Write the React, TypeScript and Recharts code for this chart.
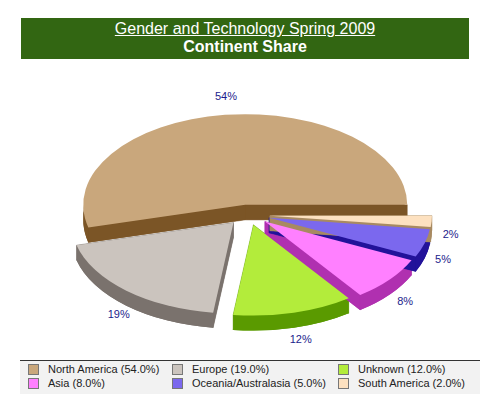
import React from 'react';
import { PieChart, Pie, Cell } from 'recharts';

// continent share data
const continents = ['North America', 'Europe', 'Unknown', 'Asia', 'Oceania/Australasia', 'South America'];
const shares = [54, 19, 12, 8, 5, 2];
const topColors = ['#c9a77c', '#cbc4be', '#b3ec3b', '#ff80ff', '#7b68ee', '#fde1c0'];
const sideColors = ['#7b5526', '#7a726d', '#5a9a00', '#b030b0', '#22129a', '#a88a62'];

const CX = 243;
const CY = 210;
const R = 162;
const K = 0.56; // vertical squash of the ellipse
const EXPLODE = 22;
const EXPLODE_K = 0.464;
const DEPTH = 15;
const RAD = Math.PI / 180;

const data = continents.map((name, i) => ({ name, value: shares[i] }));

// point on the squashed ellipse
function pt(cx: number, cy: number, r: number, deg: number) {
  return { x: cx + r * Math.cos(deg * RAD), y: cy - r * K * Math.sin(deg * RAD) };
}

function offsetOf(mid: number) {
  return { dx: EXPLODE * Math.cos(mid * RAD), dy: -EXPLODE * EXPLODE_K * Math.sin(mid * RAD) };
}

function topPath(cx: number, cy: number, r: number, a0: number, a1: number, d = 0) {
  const p0 = pt(cx, cy + d, r, a0);
  const p1 = pt(cx, cy + d, r, a1);
  const large = a1 - a0 > 180 ? 1 : 0;
  return `M${cx},${cy + d} L${p0.x},${p0.y} A${r},${r * K} 0 ${large} 0 ${p1.x},${p1.y} Z`;
}

function indexOfProps(props: any) {
  const n = props.name ?? props.payload?.name;
  const i = continents.indexOf(n);
  return i < 0 ? 0 : i;
}

// side walls and bottom of a slice
function SliceWalls(props: any) {
  const { startAngle, endAngle, midAngle } = props;
  const i = indexOfProps(props);
  const { dx, dy } = offsetOf(midAngle);
  const cx = props.cx + dx;
  const cy = props.cy + dy;
  const r = props.outerRadius;
  const col = sideColors[i];
  const parts: React.ReactNode[] = [];
  parts.push(<path key="b" d={topPath(cx, cy, r, startAngle, endAngle, DEPTH)} fill={col} />);
  [startAngle, endAngle].forEach((a: number, j: number) => {
    const p = pt(cx, cy, r, a);
    parts.push(
      <path
        key={'r' + j}
        d={`M${cx},${cy} L${p.x},${p.y} L${p.x},${p.y + DEPTH} L${cx},${cy + DEPTH} Z`}
        fill={col}
        stroke={col}
        strokeWidth={0.5}
      />
    );
  });
  const a1 = Math.max(startAngle, 180);
  const a2 = Math.min(endAngle, 360);
  if (a2 > a1) {
    const p1 = pt(cx, cy, r, a1);
    const p2 = pt(cx, cy, r, a2);
    parts.push(
      <path
        key="o"
        d={`M${p1.x},${p1.y} A${r},${r * K} 0 0 0 ${p2.x},${p2.y} L${p2.x},${p2.y + DEPTH} A${r},${r * K} 0 0 1 ${p1.x},${p1.y + DEPTH} Z`}
        fill={col}
      />
    );
  }
  return <g>{parts}</g>;
}

function SliceTop(props: any) {
  const { startAngle, endAngle, midAngle } = props;
  const i = indexOfProps(props);
  const { dx, dy } = offsetOf(midAngle);
  return <path d={topPath(props.cx + dx, props.cy + dy, props.outerRadius, startAngle, endAngle)} fill={topColors[i]} />;
}

function renderLabel(props: any) {
  const { cx, cy, midAngle, value } = props;
  const s = Math.sin(midAngle * RAD);
  const x = cx + 3 + 200 * Math.cos(midAngle * RAD);
  // labels of the front slices sit below the side wall
  const y = cy - 116 * s - 4 + (s < 0 ? 15.7 : 0);
  return (
    <text x={x} y={y} textAnchor="middle" dominantBaseline="central" fill="#1c1c8c" fontSize={11} fontFamily="Arial, 'Liberation Sans', sans-serif">
      {value + '%'}
    </text>
  );
}

export default function App() {
  return (
    <div style={{ position: 'absolute', left: 0, top: 0, width: 493, height: 394, background: '#fff', fontFamily: "Arial, 'Liberation Sans', sans-serif" }}>
      <div
        style={{
          position: 'absolute',
          left: 21,
          top: 18,
          width: 448,
          height: 41,
          background: '#326612',
          color: '#fff',
          textAlign: 'center',
          fontSize: 16,
          lineHeight: '18px',
          boxSizing: 'border-box',
          paddingTop: 2,
        }}
      >
        <div style={{ textDecoration: 'underline' }}>Gender and Technology Spring 2009</div>
        <div style={{ fontWeight: 'bold' }}>Continent Share</div>
      </div>

      <div style={{ position: 'absolute', left: 0, top: 0 }}>
        <PieChart width={493} height={360}>
          <Pie
            data={data}
            dataKey="value"
            nameKey="name"
            cx={CX}
            cy={CY}
            outerRadius={R}
            startAngle={0}
            endAngle={360}
            stroke="none"
            isAnimationActive={false}
            shape={SliceWalls}
            activeShape={SliceWalls}
            inactiveShape={SliceWalls}
          >
            {data.map((d, i) => (
              <Cell key={d.name} fill={sideColors[i]} />
            ))}
          </Pie>
          <Pie
            data={data}
            dataKey="value"
            nameKey="name"
            cx={CX}
            cy={CY}
            outerRadius={R}
            startAngle={0}
            endAngle={360}
            stroke="none"
            isAnimationActive={false}
            shape={SliceTop}
            activeShape={SliceTop}
            inactiveShape={SliceTop}
            label={renderLabel}
            labelLine={false}
          >
            {data.map((d, i) => (
              <Cell key={d.name} fill={topColors[i]} />
            ))}
          </Pie>
        </PieChart>
      </div>

      <div style={{ position: 'absolute', left: 20, top: 360, width: 460, height: 34, background: '#f2f2f2', borderTop: '1px solid #333', boxSizing: 'border-box' }}>
        {continents.map((name, i) => {
          const colX = [8, 152, 318][i % 3];
          const rowY = i < 3 ? 2 : 16;
          return (
            <div key={name} style={{ position: 'absolute', left: colX, top: rowY, height: 12, display: 'flex', alignItems: 'center', fontSize: 11, color: '#222', whiteSpace: 'nowrap' }}>
              <span style={{ width: 9, height: 9, background: topColors[i], border: '1px solid #777', display: 'inline-block', marginRight: 9 }} />
              {name} ({shares[i].toFixed(1)}%)
            </div>
          );
        })}
      </div>
    </div>
  );
}
